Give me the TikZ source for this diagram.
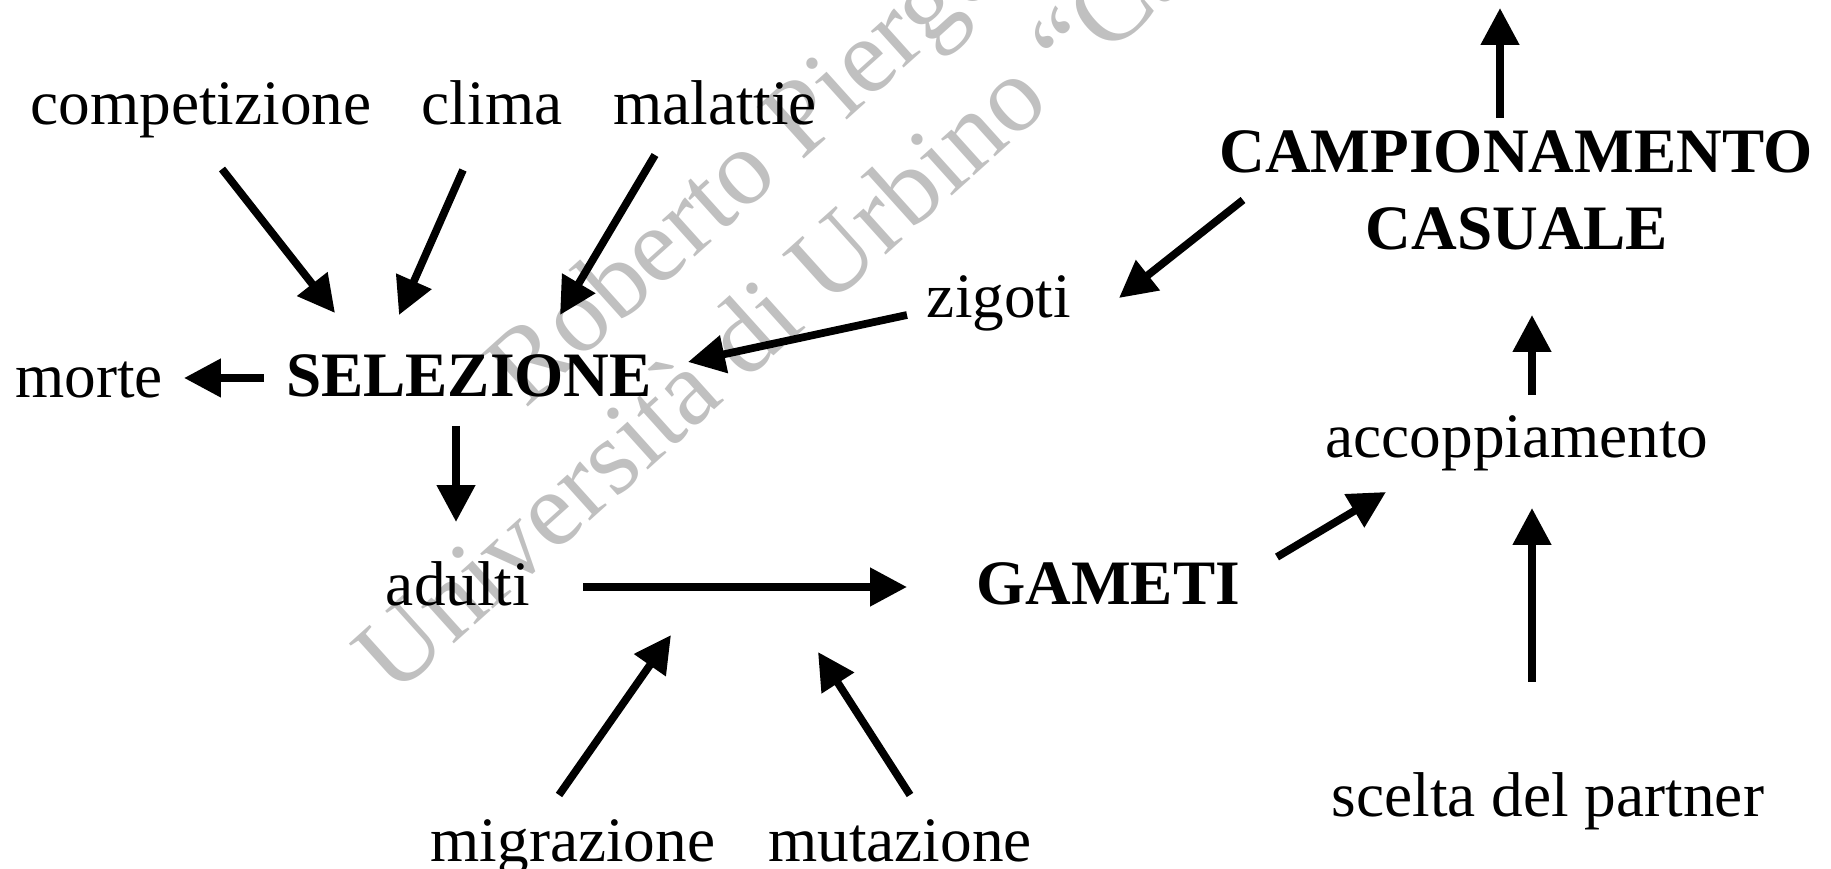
\documentclass[tikz,border=0pt]{standalone}
\usepackage{fontspec}
\setmainfont{Liberation Serif}
\usetikzlibrary{arrows.meta}
\definecolor{wmgray}{RGB}{192,192,192}
\tikzset{
  lbl/.style={anchor=base, inner sep=0pt, font=\fontsize{18}{21.6}\selectfont},
  blbl/.style={lbl, font=\fontsize{18}{21.6}\selectfont\bfseries},
  arr/.style={line width=2.2pt, -{Triangle[length=10.5pt,width=10.5pt]}},
  wm/.style={anchor=base, inner sep=0pt, rotate=42, text=wmgray, font=\fontsize{30.4}{36}\selectfont}
}
\begin{document}
\begin{tikzpicture}[x=0.1mm,y=-0.1mm]
\useasboundingbox (0,0) rectangle (1831,869);
% watermark (behind)
\node[wm] (wm1) at (828,137) {Roberto Piergentili};
\node[wm] (wm2) at (913,231) {Università di Urbino “Carlo Bo”};
% nodes
\node[lbl]  (comp)   at (201,125) {competizione};
\node[lbl]  (clima)  at (492,125) {clima};
\node[lbl]  (mal)    at (715,125) {malattie};
\node[lbl]  (morte)  at (89,398)  {morte};
\node[blbl] (sel)    at (469,397) {SELEZIONE};
\node[lbl]  (zig)    at (999,318) {zigoti};
\node[blbl] (camp)   at (1516,173) {CAMPIONAMENTO};
\node[blbl] (cas)    at (1517,250) {CASUALE};
\node[lbl]  (acc)    at (1517,458) {accoppiamento};
\node[lbl]  (adu)    at (458,606) {adulti};
\node[blbl] (gam)    at (1108,605) {GAMETI};
\node[lbl]  (scelta) at (1548,816) {scelta del partner};
\node[lbl]  (migr)   at (573,861) {migrazione};
\node[lbl]  (mut)    at (900,861) {mutazione};
\coordinate (top) at (1500,8);
\coordinate (inA) at (671,635);
\coordinate (inB) at (818,652);
% connectors
\draw[arr] ([shift={(21,44)}]comp.base) -- ([shift={(-134,-84)}]sel.base);
\draw[arr] ([shift={(-29,45)}]clima.base) -- ([shift={(-70,-82)}]sel.base);
\draw[arr] ([shift={(-60,30)}]mal.base) -- ([shift={(91,-82)}]sel.base);
\draw[arr] ([shift={(-205,-19)}]sel.base) -- ([shift={(95,-20)}]morte.base);
\draw[arr] ([shift={(-92,-3)}]zig.base) -- ([shift={(219,-35)}]sel.base);
\draw[arr] ([shift={(-273,27)}]camp.base) -- ([shift={(120,-20)}]zig.base);
\draw[arr] ([shift={(-16,-55)}]camp.base) -- (top);
\draw[arr] ([shift={(15,-63)}]acc.base) -- ([shift={(15,65)}]cas.base);
\draw[arr] ([shift={(-16,-134)}]scelta.base) -- ([shift={(15,50)}]acc.base);
\draw[arr] ([shift={(169,-48)}]gam.base) -- ([shift={(-131,34)}]acc.base);
\draw[arr] ([shift={(-13,29)}]sel.base) -- ([shift={(-2,-84)}]adu.base);
\draw[arr] ([shift={(125,-19)}]adu.base) -- ([shift={(-201,-18)}]gam.base);
\draw[arr] ([shift={(-14,-66)}]migr.base) -- (inA);
\draw[arr] ([shift={(10,-66)}]mut.base) -- (inB);
\end{tikzpicture}
\end{document}
